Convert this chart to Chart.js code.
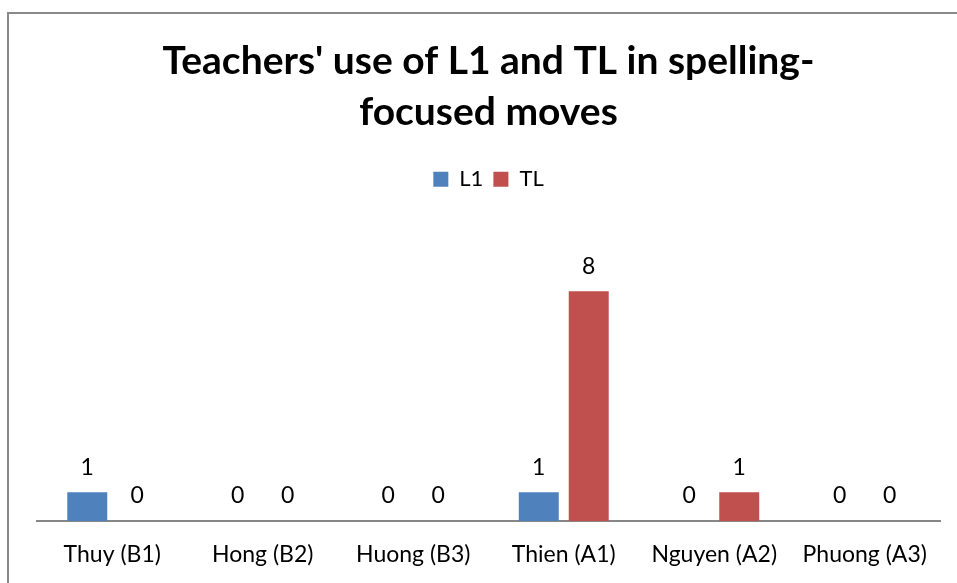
<!DOCTYPE html>
<html>
<head>
<meta charset="utf-8">
<script src="https://cdn.jsdelivr.net/npm/chart.js@4"></script>
<style>
  html, body { margin: 0; padding: 0; background: #fff; }
  #wrap { width: 957px; height: 583px; }
</style>
</head>
<body>
<div id="wrap"><canvas id="chart" width="957" height="583"></canvas></div>
<script>
// chart data
const teachers = ["Thuy (B1)", "Hong (B2)", "Huong (B3)", "Thien (A1)", "Nguyen (A2)", "Phuong (A3)"];
const l1Values = [1, 0, 0, 1, 0, 0];
const tlValues = [0, 0, 0, 8, 1, 0];
const titleLines = ["Teachers' use of L1 and TL in spelling-", "focused moves"];

const FONT = "Lato, 'Open Sans', sans-serif";

// Outer frame like the Excel chart area (right/bottom edges fall outside the window)
const framePlugin = {
  id: "frame",
  beforeDraw(chart) {
    const ctx = chart.ctx;
    ctx.save();
    ctx.strokeStyle = "#898989";
    ctx.lineWidth = 2;
    ctx.beginPath();
    ctx.moveTo(8, chart.height + 5);
    ctx.lineTo(8, 13);
    ctx.lineTo(chart.width + 5, 13);
    ctx.stroke();
    ctx.restore();
  }
};

// Value labels above each bar (including zeros)
const valueLabels = {
  id: "valueLabels",
  afterDatasetsDraw(chart) {
    const ctx = chart.ctx;
    ctx.save();
    ctx.font = "23px " + FONT;
    ctx.fillStyle = "#000";
    ctx.textAlign = "center";
    ctx.textBaseline = "middle";
    chart.data.datasets.forEach((ds, i) => {
      chart.getDatasetMeta(i).data.forEach((bar, j) => {
        ctx.fillText(String(ds.data[j]), bar.x, bar.y - 25);
      });
    });
    ctx.restore();
  }
};

new Chart(document.getElementById("chart"), {
  type: "bar",
  data: {
    labels: teachers,
    datasets: [
      { label: "L1", data: l1Values, backgroundColor: "#4F81BD" },
      { label: "TL", data: tlValues, backgroundColor: "#C0504D" }
    ]
  },
  options: {
    responsive: false,
    animation: false,
    devicePixelRatio: 1,
    categoryPercentage: 0.664,
    barPercentage: 0.8,
    layout: { padding: { left: 37, right: 17, top: 20, bottom: 3 } },
    plugins: {
      title: {
        display: true,
        text: titleLines,
        color: "#000",
        font: { family: FONT, size: 39, weight: "bold", lineHeight: 1.31 },
        padding: { top: 16, bottom: 20 }
      },
      legend: {
        display: true,
        position: "top",
        labels: {
          boxWidth: 15,
          boxHeight: 15,
          color: "#000",
          font: { family: FONT, size: 22 },
          padding: 10
        }
      },
      tooltip: { enabled: false }
    },
    scales: {
      x: {
        grid: { display: false },
        border: { display: true, color: "#868686", width: 2 },
        ticks: { color: "#000", font: { family: FONT, size: 23, lineHeight: 1 }, padding: 14, maxRotation: 0 }
      },
      y: {
        display: false,
        min: 0,
        max: 11.17
      }
    }
  },
  plugins: [framePlugin, valueLabels]
});
</script>
</body>
</html>
